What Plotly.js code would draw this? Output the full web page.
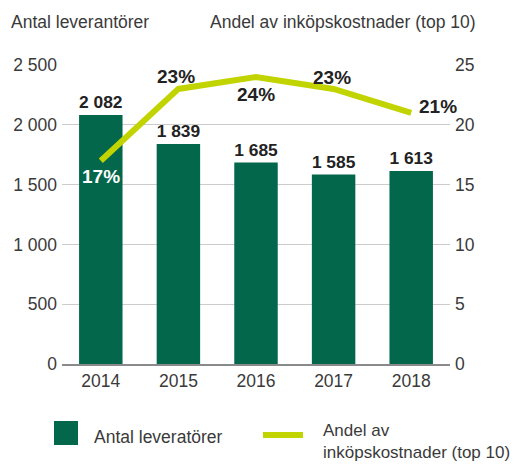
<!DOCTYPE html>
<html><head><meta charset="utf-8">
<script src="https://cdn.plot.ly/plotly-3.0.1.min.js"></script>
<style>body{margin:0;background:#fff}#c{width:526px;height:465px}</style>
</head><body><div id="c"></div>
<script>
const years = ['2014','2015','2016','2017','2018'];
const suppliers = [2082, 1839, 1685, 1585, 1613];
const shareTop10 = [17, 23, 24, 23, 21];
const barName = 'Antal leveratörer';
const lineName = 'Andel av<br>inköpskostnader (top 10)';
const leftTitle = 'Antal leverantörer';
const rightTitle = 'Andel av inköpskostnader (top 10)';

const W = 526, H = 465, L = 62, R = 76, T = 65, B = 101;
const pw = W - L - R, ph = H - T - B;
const px = x => (x - L) / pw;
const py = y => (H - B - y) / ph;

const green = '#03674b', lime = '#c2d400', txt = '#3a3a3a';
const font = 'Liberation Sans, Arial, sans-serif';
const FS = 17.5;

const traces = [
  {type:'bar', x:years, y:suppliers, name:barName, marker:{color:green}, width:0.56,
   texttemplate:'%{y:,}', textposition:'outside', cliponaxis:false,
   textfont:{family:font, size:18.5, color:'#222', weight:'bold'}, showlegend:false},
  {type:'scatter', mode:'lines', x:years, y:shareTop10, yaxis:'y2', name:lineName,
   line:{color:lime, width:6}, cliponaxis:false, showlegend:false}
];

// label placement per point (styling only)
const lblShift = [[0,-16,'center','#ffffff'],[-2,12,'center','#222'],[0,-18,'center','#222'],[-2,11,'center','#222'],[6,6,'left','#222']];
const pctAnn = shareTop10.map((v,i)=>({
  xref:'x', yref:'y2', x:i, y:v, text:v+'%', showarrow:false,
  xanchor:lblShift[i][2], yanchor:'middle', xshift:lblShift[i][0], yshift:lblShift[i][1],
  font:{family:font, size:19, color:lblShift[i][3], weight:'bold'}
}));

const layout = {
  width:W, height:H, margin:{l:L, r:R, t:T, b:B}, separators:', ',
  paper_bgcolor:'#fff', plot_bgcolor:'#fff', font:{family:font, color:txt, size:FS},
  bargap:0.44,
  xaxis:{type:'category', range:[-0.5,4.5], showgrid:false, showline:true, linecolor:'#8a8a8a', linewidth:2,
         ticks:'', tickfont:{size:FS, color:txt}, zeroline:false},
  yaxis:{range:[0,2500], tickvals:[0,500,1000,1500,2000,2500], tickformat:',', showgrid:true, gridcolor:'#cccccc',
         gridwidth:1, zeroline:false, ticks:'', ticklabelstandoff:4, tickfont:{size:FS, color:txt}},
  yaxis2:{range:[0,25], tickvals:[0,5,10,15,20,25], overlaying:'y', side:'right', showgrid:false, zeroline:false,
          ticks:'', ticklabelstandoff:4, tickfont:{size:FS, color:txt}},
  shapes:[
    {type:'rect', xref:'paper', yref:'paper', x0:px(54), x1:px(78), y0:py(445), y1:py(421), fillcolor:green, line:{width:0}},
    {type:'line', xref:'paper', yref:'paper', x0:px(263), x1:px(303), y0:py(435), y1:py(435), line:{color:lime, width:6, cap:'round'}}
  ],
  annotations:[
    {xref:'paper', yref:'paper', x:px(9), y:py(22), xanchor:'left', yanchor:'middle', text:leftTitle, showarrow:false, font:{size:FS, color:txt}},
    {xref:'paper', yref:'paper', x:px(478), y:py(22), xanchor:'right', yanchor:'middle', text:rightTitle, showarrow:false, font:{size:FS, color:txt}},
    {xref:'paper', yref:'paper', x:px(92), y:py(437), xanchor:'left', yanchor:'middle', text:barName, showarrow:false, font:{size:FS, color:txt}},
    {xref:'paper', yref:'paper', x:px(321), y:py(419), xanchor:'left', yanchor:'top', align:'left', text:lineName, showarrow:false, font:{size:17, color:txt}}
  ].concat(pctAnn)
};
Plotly.newPlot('c', traces, layout, {displayModeBar:false, staticPlot:true});
</script></body></html>
